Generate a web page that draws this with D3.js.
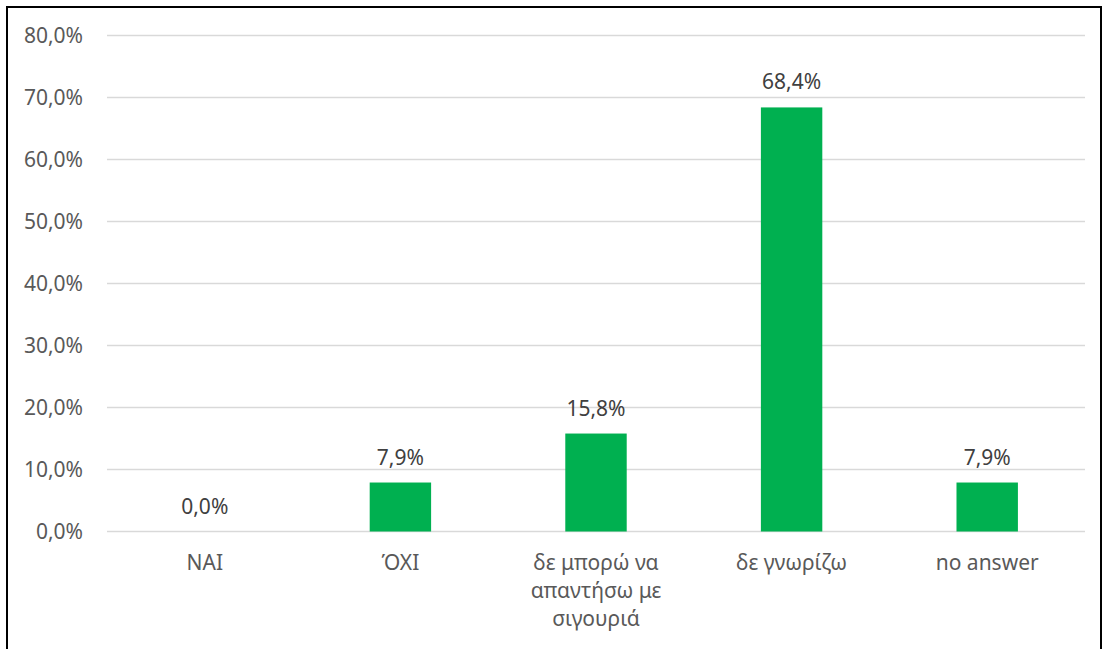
<!DOCTYPE html>
<html>
<head>
<meta charset="utf-8">
<script src="https://cdn.jsdelivr.net/npm/d3@7"></script>
<style>
  html, body { margin: 0; padding: 0; background: #fff; }
  svg { display: block; }
  text { font-family: "Noto Sans", "Open Sans", sans-serif; }
</style>
</head>
<body>
<svg id="chart" width="1103" height="649"></svg>
<script>
const categories = ["NAI", "ΌΧΙ", "δε μπορώ να απαντήσω με σιγουριά", "δε γνωρίζω", "no answer"];
const values = [0.0, 7.9, 15.8, 68.4, 7.9];
const yTicks = [0, 10, 20, 30, 40, 50, 60, 70, 80];

const W = 1103, H = 649;
const margin = { left: 107, right: 18, top: 35.5, bottom: 117.5 };
const svg = d3.select("#chart");

svg.append("rect")
  .attr("x", 7).attr("y", 7).attr("width", 1094).attr("height", 660)
  .attr("fill", "#fff").attr("stroke", "#000").attr("stroke-width", 2);

const x = d3.scaleBand()
  .domain(categories)
  .range([margin.left, W - margin.right])
  .paddingInner(0.686).paddingOuter(0.343);

const y = d3.scaleLinear()
  .domain([0, 80])
  .range([H - margin.bottom, margin.top]);

const fmt = v => v.toFixed(1).replace(".", ",") + "%";

// gridlines
svg.append("g")
  .selectAll("line")
  .data(yTicks)
  .join("line")
  .attr("x1", margin.left).attr("x2", W - margin.right)
  .attr("y1", d => y(d)).attr("y2", d => y(d))
  .attr("stroke", "#d9d9d9").attr("stroke-width", 1.5);

// y axis labels
const yAxis = d3.axisLeft(y).tickValues(yTicks).tickFormat(fmt).tickSize(0).tickPadding(24);
const ya = svg.append("g").attr("transform", `translate(${margin.left},0)`).call(yAxis);
ya.select(".domain").remove();
ya.selectAll("text")
  .attr("fill", "#595959").attr("font-size", "21px")
  .attr("font-family", '"Noto Sans", sans-serif');

// bars
svg.append("g")
  .selectAll("rect")
  .data(values)
  .join("rect")
  .attr("x", (d, i) => x(categories[i]))
  .attr("width", x.bandwidth())
  .attr("y", d => y(d))
  .attr("height", d => y(0) - y(d))
  .attr("fill", "#00b050");

// data labels
svg.append("g")
  .selectAll("text")
  .data(values)
  .join("text")
  .attr("x", (d, i) => x(categories[i]) + x.bandwidth() / 2)
  .attr("y", d => y(d) - 18)
  .attr("text-anchor", "middle")
  .attr("fill", "#404040")
  .attr("font-size", "21px")
  .text(d => fmt(d));

// x axis labels with wrapping
const xa = svg.append("g");
const maxW = 145;
categories.forEach((c, i) => {
  const cx = x(c) + x.bandwidth() / 2;
  const t = xa.append("text")
    .attr("x", cx)
    .attr("y", 570)
    .attr("text-anchor", "middle")
    .attr("fill", "#595959")
    .attr("font-size", "21px");
  const words = c.split(" ");
  let line = [];
  let tspan = t.append("tspan").attr("x", cx).attr("dy", 0);
  words.forEach(w => {
    line.push(w);
    tspan.text(line.join(" "));
    if (tspan.node().getComputedTextLength() > maxW && line.length > 1) {
      line.pop();
      tspan.text(line.join(" "));
      line = [w];
      tspan = t.append("tspan").attr("x", cx).attr("dy", 28).text(w);
    }
  });
});
</script>
</body>
</html>
